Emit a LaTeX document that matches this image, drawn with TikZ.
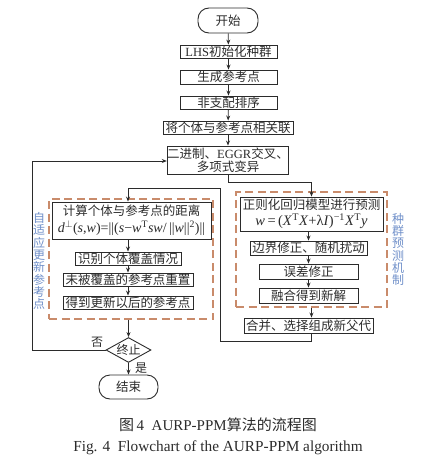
\documentclass[tikz,border=0pt]{standalone}
\usepackage{fontspec}
\setmainfont{Liberation Serif}
\newfontfamily\zh{Noto Sans CJK SC}
\usetikzlibrary{shapes.geometric,arrows.meta}
\definecolor{ln}{HTML}{2B2B2B}
\definecolor{dsh}{HTML}{C98B6B}
\definecolor{lbl}{HTML}{6F8FC9}
\newcommand{\rmt}[1]{{\rmfamily #1}}
\begin{document}
\begin{tikzpicture}[x=1pt,y=-1pt,
  box/.style={draw=ln, line width=0.9pt, inner sep=0pt, font=\zh\fontsize{12.5}{14}\selectfont, text=ln},
  term/.style={box, rounded corners=11pt},
  arr/.style={draw=ln, line width=0.8pt, -{Stealth[length=5pt,width=4pt]}},
  grp/.style={draw=dsh, line width=1.3pt, dash pattern=on 8pt off 4.5pt, inner sep=0pt},
  side/.style={text=lbl, font=\zh\fontsize{12}{12.3}\selectfont, align=center, inner sep=0pt},
  lab/.style={text=ln, font=\zh\fontsize{12}{14}\selectfont, inner sep=0pt}]
\useasboundingbox (0,0) rectangle (429,469);
% top chain
\node[term, minimum width=60pt, minimum height=25pt] (start) at (228,20.5) {开始};
\node[box, minimum width=97pt, minimum height=13pt] (lhs) at (228.5,51.5) {\rmt{LHS}初始化种群};
\node[box, minimum width=97pt, minimum height=14pt] (gen) at (228.5,77) {生成参考点};
\node[box, minimum width=97pt, minimum height=13pt] (nds) at (228.5,102.5) {非支配排序};
\node[box, minimum width=130pt, minimum height=13pt] (assoc) at (228,127.5) {将个体与参考点相关联};
\node[box, minimum width=120pt, minimum height=28pt, align=center, font=\zh\fontsize{12.5}{13.5}\selectfont] (evo) at (228,160) {二进制、\rmt{EGGR}交叉、\\多项式变异};
% left group
\node[grp, minimum width=164pt, minimum height=120pt] (ldash) at (131,259) {};
\node[side] (lside) at (39,261) {自\\适\\应\\更\\新\\参\\考\\点};
\node[box, minimum width=159pt, minimum height=37pt, align=center, font=\zh\fontsize{12.5}{17}\selectfont] (calc) at (131.5,220.5) {计算个体与参考点的距离\\{\rmfamily\fontsize{14}{15}\selectfont\textit{d}\textsuperscript{$\perp$}(\textit{s},\textit{w})=||(\textit{s}−\textit{w}\textsuperscript{T}\textit{sw}/\,||\textit{w}||\textsuperscript{2})||}};
\node[box, minimum width=106pt, minimum height=13pt] (ident) at (128,258.5) {识别个体覆盖情况};
\node[box, minimum width=130pt, minimum height=13pt] (reset) at (128,279.5) {未被覆盖的参考点重置};
\node[box, minimum width=130pt, minimum height=13pt] (got) at (128,302.5) {得到更新以后的参考点};
% right group
\node[grp, minimum width=151pt, minimum height=115pt] (rdash) at (311.5,249.5) {};
\node[side] (rside) at (398,249.5) {种\\群\\预\\测\\机\\制};
\node[box, minimum width=143pt, minimum height=34pt, align=center, font=\zh\fontsize{12.5}{16}\selectfont] (pred) at (311.5,214) {正则化回归模型进行预测\\{\rmfamily\fontsize{14.5}{15}\selectfont\textit{w}\,=\,(\textit{X}\textsuperscript{T}\textit{X}+λ\textit{I})\textsuperscript{−1}\textit{X}\textsuperscript{T}\textit{y}}};
\node[box, minimum width=117pt, minimum height=14pt] (bnd) at (308.5,248) {边界修正、随机扰动};
\node[box, minimum width=99pt, minimum height=15pt] (err) at (308.5,271.5) {误差修正};
\node[box, minimum width=99pt, minimum height=15pt] (fuse) at (308.5,295.5) {融合得到新解};
\node[box, minimum width=129pt, minimum height=15pt] (merge) at (308.5,325.5) {合并、选择组成新父代};
% decision and end
\node[box, diamond, aspect=1.73, minimum width=45pt, font=\zh\fontsize{12}{14}\selectfont] (stop) at (128.5,350) {终止};
\node[term, minimum width=59pt, minimum height=24pt] (end) at (128.5,387) {结束};
\node[lab] (no) at (97,342) {否};
\node[lab] (yes) at (141,368) {是};
% coordinates
\coordinate (e1) at (228,182);
\coordinate (r0) at (220,341);
\coordinate (r1) at (220,188);
\coordinate (lp2) at (32,161);
% connectors
\draw[arr] (start) -- (lhs);
\draw[arr] (lhs) -- (gen);
\draw[arr] (gen) -- (nds);
\draw[arr] (nds) -- (assoc);
\draw[arr] (assoc) -- (evo);
\draw[arr] (evo.south) -- (e1) -| (pred.north);
\draw[arr] (pred.south -| bnd.north) -- (bnd.north);
\draw[arr] (bnd) -- (err);
\draw[arr] (err) -- (fuse);
\draw[arr] (rdash.south -| pred.north) -- (merge.north -| pred.north);
\draw[arr] (merge.south -| pred.north) |- (r0) -- (r1) -| (ident.north |- calc.north);
\draw[arr] (calc.south -| ident.north) -- (ident.north);
\draw[arr] (ident) -- (reset);
\draw[arr] (reset) -- (got);
\draw[arr] (ldash.south -| stop.north) -- (stop.north);
\draw[arr] (stop) -- (end);
\draw[arr] (stop.west) -| (lp2) -- (lp2 -| evo.west);
% captions
\node[text=ln, font=\zh\fontsize{15}{16}\selectfont, inner sep=0pt] (cap1) at (218,425) {图\,\rmt{4}\enspace\rmt{AURP-PPM}算法的流程图};
\node[text=ln, font=\rmfamily\fontsize{15.3}{16}\selectfont, inner sep=0pt] (cap2) at (218,448) {Fig. 4\enspace Flowchart of the AURP-PPM algorithm};
\end{tikzpicture}
\end{document}
